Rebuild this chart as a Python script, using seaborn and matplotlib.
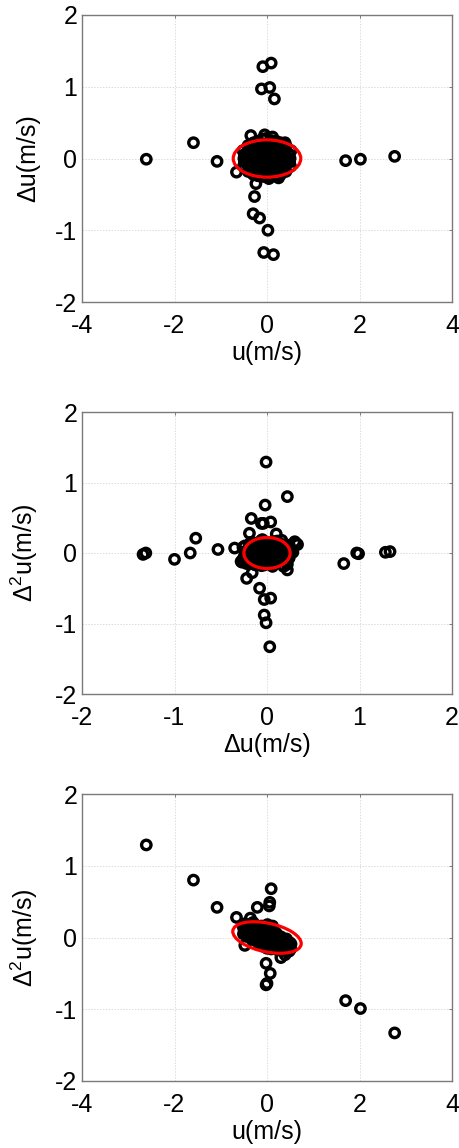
import numpy as np
import pandas as pd
import matplotlib
matplotlib.use("Agg")
import matplotlib.pyplot as plt
from matplotlib.patches import Ellipse
import seaborn as sns

# ---- isolated samples (u, Δu, Δ²u) in m/s ----
u_out = [-0.09, 0.09, -0.12, 0.06, 0.16, -0.07, 0.14, 0.02, -0.16, -0.30,
         -0.27, -0.24, 0.04, -2.61, -1.59, -1.08, 1.70, 2.02, 2.76, -0.35,
         -0.66, 0.09, 0.06, 0.05, -0.21, 0.12, -0.05, 0.39, -0.02, 0.07,
         -0.02, 0.00, 0.30, 0.25, -0.48, -0.36]
du_out = [1.28, 1.33, 0.97, 0.99, 0.83, -1.31, -1.34, -1.00, -0.83, -0.77,
          -0.53, -0.35, -0.28, -0.01, 0.22, -0.04, -0.03, -0.01, 0.03, 0.32,
          -0.19, -0.02, -0.17, 0.04, -0.06, 0.30, 0.33, 0.22, -0.22, -0.08,
          -0.03, 0.04, -0.16, -0.27, 0.05, 0.10]
d2u_out = [0.01, 0.02, 0.00, -0.01, -0.15, 0.00, -0.02, -0.09, 0.00, 0.21,
           0.05, 0.07, -0.12, 1.29, 0.80, 0.42, -0.88, -0.99, -1.33, 0.13,
           0.28, 0.68, 0.49, 0.44, 0.42, 0.16, 0.12, -0.24, -0.36, -0.50,
           -0.66, -0.64, -0.28, -0.13, -0.11, 0.27]

# ---- dense core of the distribution ----
u_core = [
    -0.51, -0.49, -0.50, -0.48, -0.52,
    -0.41, -0.39, -0.40, -0.42, -0.38, -0.40, -0.41,
    -0.30, -0.31, -0.29, -0.30, -0.32, -0.28, -0.30, -0.31, -0.29,
    -0.20, -0.21, -0.19, -0.20, -0.22, -0.18, -0.20, -0.21, -0.19, -0.20,
    -0.10, -0.11, -0.09, -0.10, -0.12, -0.08, -0.10, -0.11, -0.09, -0.10,
    0.00, -0.01, 0.01, 0.00, -0.02, 0.02, 0.00, -0.01, 0.01, 0.00, -0.02,
    0.10, 0.11, 0.09, 0.10, 0.12, 0.08, 0.10, 0.11, 0.09, 0.10,
    0.20, 0.21, 0.19, 0.20, 0.22, 0.18, 0.20, 0.21, 0.19, 0.20,
    0.30, 0.31, 0.29, 0.30, 0.32, 0.28, 0.30, 0.31, 0.29,
    0.41, 0.39, 0.40, 0.42, 0.38, 0.40, 0.41,
    0.51, 0.49, 0.50, 0.48, 0.52,
]
du_core = [
    -0.11, -0.05, 0.00, 0.06, 0.11,
    -0.18, -0.12, -0.06, 0.00, 0.06, 0.12, 0.18,
    -0.22, -0.17, -0.11, -0.06, 0.00, 0.06, 0.11, 0.17, 0.22,
    -0.24, -0.19, -0.13, -0.08, -0.03, 0.03, 0.08, 0.13, 0.19, 0.24,
    -0.25, -0.19, -0.14, -0.08, -0.03, 0.03, 0.08, 0.14, 0.20, 0.27,
    -0.26, -0.21, -0.16, -0.10, -0.05, 0.00, 0.05, 0.10, 0.16, 0.21, 0.28,
    -0.25, -0.20, -0.14, -0.08, -0.03, 0.03, 0.08, 0.14, 0.19, 0.25,
    -0.24, -0.19, -0.13, -0.08, -0.03, 0.03, 0.08, 0.13, 0.19, 0.24,
    -0.22, -0.17, -0.11, -0.06, 0.00, 0.06, 0.11, 0.17, 0.22,
    -0.18, -0.12, -0.06, 0.00, 0.06, 0.12, 0.18,
    -0.11, -0.05, 0.00, 0.06, 0.11,
]
d2u_core = [
    0.05, 0.19, 0.12, 0.08, 0.16,
    0.14, 0.02, 0.18, 0.09, 0.00, 0.12, 0.06,
    0.00, 0.15, 0.08, -0.03, 0.12, 0.04, 0.17, 0.10, -0.01,
    0.10, -0.05, 0.14, 0.02, 0.08, -0.08, 0.16, 0.05, -0.02, 0.11,
    -0.06, 0.12, 0.03, -0.10, 0.16, 0.07, -0.03, 0.10, -0.12, 0.04,
    0.08, -0.12, 0.02, 0.14, -0.06, 0.10, -0.15, 0.05, 0.18, -0.09, 0.01,
    -0.10, 0.05, -0.16, 0.10, -0.04, -0.13, 0.07, -0.07, 0.12, -0.01,
    0.02, -0.14, -0.04, 0.06, -0.17, -0.09, 0.03, -0.12, -0.01, -0.07,
    -0.15, -0.02, -0.10, -0.18, -0.05, -0.12, 0.01, -0.08, -0.16,
    -0.06, -0.17, -0.11, -0.02, -0.14, -0.08, -0.19,
    -0.16, -0.07, -0.12, -0.19, -0.09,
]

# ---- confidence ellipses: half-extent in x, half-extent in y, correlation ----
ell_sx = [0.73, 0.25, 0.74]
ell_sy = [0.26, 0.22, 0.22]
ell_r = [0.0, 0.0, -0.38]

# panel definitions: x column, y column, x ticks, labels
panel_x = ["u", "du", "u"]
panel_y = ["du", "d2u", "d2u"]
x_ticks = [[-4, -2, 0, 2, 4], [-2, -1, 0, 1, 2], [-4, -2, 0, 2, 4]]
y_ticks = [-2, -1, 0, 1, 2]
x_labels = ["u(m/s)", "\u0394u(m/s)", "u(m/s)"]
y_labels = ["\u0394u(m/s)", "\u0394$^2$u(m/s)", "\u0394$^2$u(m/s)"]

df = pd.DataFrame({
    "u": u_out + u_core,
    "du": du_out + du_core,
    "d2u": d2u_out + d2u_core,
})

sns.set_style("white")
plt.rcParams["font.family"] = ["Liberation Sans", "DejaVu Sans"]
plt.rcParams["mathtext.fontset"] = "custom"
plt.rcParams["mathtext.rm"] = "Liberation Sans"
plt.rcParams["mathtext.it"] = "Liberation Sans"
plt.rcParams["mathtext.default"] = "regular"
plt.rcParams["axes.unicode_minus"] = False

W, H = 459, 1148
fig = plt.figure(figsize=(W / 100, H / 100), dpi=100)
boxes = [(82, 15, 452, 302), (82, 412, 452, 694), (82, 794, 452, 1081)]

frame_col = "#7a7a7a"
for i, (l, t, r, b) in enumerate(boxes):
    ax = fig.add_axes([l / W, 1 - b / H, (r - l) / W, (b - t) / H])
    sns.scatterplot(data=df, x=panel_x[i], y=panel_y[i], ax=ax,
                    marker="o", s=46, facecolor="none", edgecolor="black",
                    linewidth=2.4, zorder=3, legend=False)

    # covariance-style ellipse
    sx, sy, r = ell_sx[i], ell_sy[i], ell_r[i]
    cov = np.array([[sx * sx, r * sx * sy], [r * sx * sy, sy * sy]])
    vals, vecs = np.linalg.eigh(cov)
    ang = np.degrees(np.arctan2(vecs[1, 1], vecs[0, 1]))
    ax.add_patch(Ellipse((0, 0), 2 * np.sqrt(vals[1]), 2 * np.sqrt(vals[0]),
                         angle=ang, fill=False, edgecolor="#ff0000",
                         linewidth=2.3, zorder=4))

    xt = x_ticks[i]
    ax.set_xlim(xt[0], xt[-1])
    ax.set_ylim(y_ticks[0], y_ticks[-1])
    ax.set_xticks(xt)
    ax.set_yticks(y_ticks)
    ax.set_xticklabels([str(v) for v in xt])
    ax.set_yticklabels([str(v) for v in y_ticks])
    ax.grid(True, color="#dcdcdc", linestyle=(0, (1.5, 1.5)), linewidth=0.7, zorder=0)
    ax.set_axisbelow(True)
    for sp in ax.spines.values():
        sp.set_color(frame_col)
        sp.set_linewidth(1.0)
    ax.tick_params(axis="both", which="major", direction="in", length=2.5,
                   width=0.7, color=frame_col, labelsize=18, labelcolor="black",
                   top=True, right=True)
    ax.tick_params(axis="x", pad=8.5)
    ax.tick_params(axis="y", pad=3.5)
    ax.set_xlabel(x_labels[i], fontsize=18, labelpad=2, color="black")
    ax.set_ylabel(y_labels[i], fontsize=18, color="black")
    ax.yaxis.set_label_coords(-0.113, 0.5)

fig.savefig("out.png", dpi=100, facecolor="white")
